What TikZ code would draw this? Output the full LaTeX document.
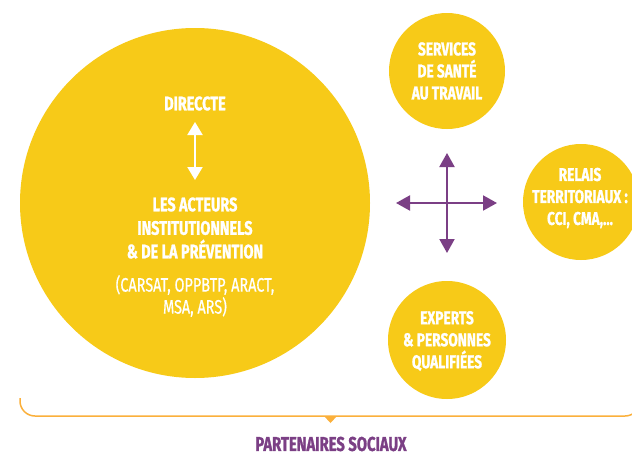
\documentclass[tikz,border=0pt]{standalone}
\usepackage{fontspec}
\usepackage{xcolor}
\usepackage{tikz}
\usetikzlibrary{arrows.meta}
\newfontfamily\dinfont{Fira Sans}[FakeStretch=0.74, BoldFeatures={FakeBold=1.2}]
\newfontfamily\dinmed{Fira Sans}[FakeStretch=0.74, FakeBold=0.6]
\definecolor{bg}{HTML}{FFFFFF}
\definecolor{sun}{HTML}{F7CA18}
\definecolor{plum}{HTML}{7B3F85}
\definecolor{amber}{HTML}{FBB03B}
\definecolor{text}{HTML}{FFFFFF}
\tikzset{
  disc/.style={circle, fill=sun, inner sep=0pt},
  lab/.style={text=text, align=center, inner sep=0pt, font=\dinfont\bfseries\fontsize{19.5}{23.5}\selectfont},
  labr/.style={lab, font=\dinmed\fontsize{19.5}{22}\selectfont},
  labs/.style={lab, font=\dinfont\bfseries\fontsize{18.5}{22}\selectfont},
  link/.style={draw=plum, line width=2pt, {Triangle[width=15pt,length=14pt]}-{Triangle[width=15pt,length=14pt]}},
  wlink/.style={draw=text, line width=2pt, {Triangle[width=15pt,length=13pt]}-{Triangle[width=15pt,length=13pt]}},
  brace/.style={draw=amber, line width=1.5pt, rounded corners=15pt},
  labp/.style={text=plum, inner sep=0pt, font=\dinfont\bfseries\fontsize{20}{22}\selectfont}
}
\begin{document}
\begin{tikzpicture}[x=1pt,y=-1pt]
  \useasboundingbox[fill=bg] (0,0) rectangle (632,455);
  % discs
  \node[disc, minimum size=350pt] (acteurs) at (195,203) {};
  \node[disc, minimum size=116pt] (sante) at (447,71) {};
  \node[disc, minimum size=116pt] (relais) at (581,202) {};
  \node[disc, minimum size=118pt] (experts) at (447,340) {};
  % texts
  \node[lab] (direccte) at (195,103.5) {DIRECCTE};
  \node[lab] (acteurstxt) at (195,228) {LES ACTEURS\\INSTITUTIONNELS\\\& DE LA PRÉVENTION};
  \node[labr] (membres) at (195,296) {(CARSAT, OPPBTP, ARACT,\\MSA, ARS)};
  \node[labs] at (sante) {SERVICES\\DE SANTÉ\\AU TRAVAIL};
  \node[labs] at (580,198) {RELAIS\\TERRITORIAUX :\\{\dinmed CCI, CMA,...}};
  \node[labs] at (447,341) {EXPERTS\\\& PERSONNES\\QUALIFIÉES};
  % arrows
  \coordinate (dtop) at (195,122);
  \coordinate (dbot) at (195,180);
  \draw[wlink] (dtop) -- (dbot);
  \coordinate (hub) at (447,203);
  \coordinate (up) at (447,153);
  \coordinate (down) at (447,253);
  \coordinate (left) at (396,203);
  \coordinate (right) at (497,203);
  \draw[link] (left) -- (right);
  \draw[link] (up) -- (down);
  % partenaires
  \draw[brace] (20,398) -- (20,416) -- (640,416) -- (640,398);
  \fill[amber] (324,416) -- (337,416) -- (330.5,423) -- cycle;
  \node[labp] (partenaires) at (331,444) {PARTENAIRES SOCIAUX};
\end{tikzpicture}
\end{document}
